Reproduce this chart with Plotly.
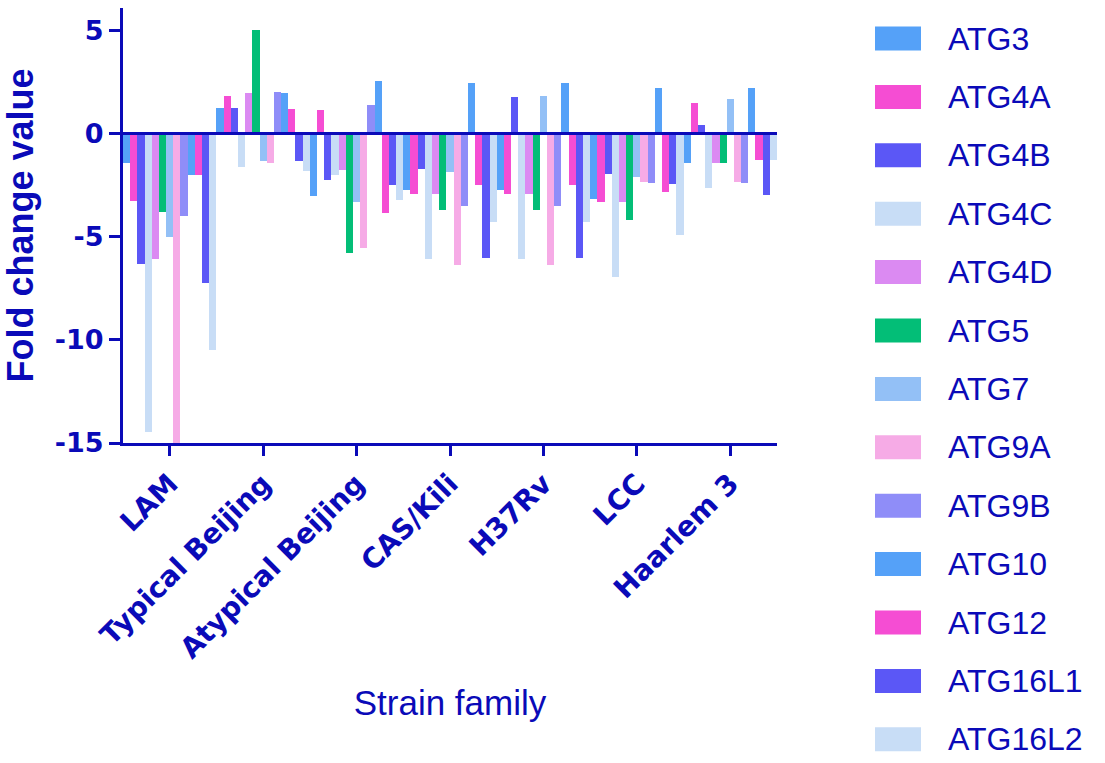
import plotly.graph_objects as go

# ---------------- data ----------------
categories = ["LAM", "Typical Beijing", "Atypical Beijing", "CAS/Kili", "H37Rv", "LCC", "Haarlem 3"]
series_names = ["ATG3", "ATG4A", "ATG4B", "ATG4C", "ATG4D", "ATG5", "ATG7",
                "ATG9A", "ATG9B", "ATG10", "ATG12", "ATG16L1", "ATG16L2"]

ATG3    = [-1.43, 1.24, -3.04, -2.75, -2.75, -3.17, -1.42]
ATG4A   = [-3.28, 1.82, 1.13, -2.91, -2.91, -3.33, 1.47]
ATG4B   = [-6.31, 1.24, -2.24, -1.71, 1.77, -1.95, 0.42]
ATG4C   = [-14.48, -1.64, -2.00, -6.07, -6.07, -6.94, -2.64]
ATG4D   = [-6.10, 1.95, -1.76, -2.91, -2.91, -3.33, -1.42]
ATG5    = [-3.82, 5.02, -5.78, -3.69, -3.69, -4.17, -1.42]
ATG7    = [-5.02, -1.35, -3.33, -1.88, 1.82, -2.11, 1.66]
ATG9A   = [-15.0, -1.43, -5.56, -6.36, -6.36, -2.35, -2.35]
ATG9B   = [-3.98, 2.01, 1.37, -3.53, -3.53, -2.40, -2.40]
ATG10   = [-2.00, 1.95, 2.53, 2.43, 2.43, 2.22, 2.22]
ATG12   = [-2.00, 1.18, -3.85, -2.51, -2.51, -2.82, -1.29]
ATG16L1 = [-7.23, -1.35, -2.51, -6.02, -6.02, -2.46, -2.98]
ATG16L2 = [-10.50, -1.84, -3.22, -4.27, -4.27, -4.91, -1.29]

series_values = [ATG3, ATG4A, ATG4B, ATG4C, ATG4D, ATG5, ATG7,
                 ATG9A, ATG9B, ATG10, ATG12, ATG16L1, ATG16L2]

y_tick_values = [-15, -10, -5, 0, 5]
y_tick_labels = ["-15", "-10", "-5", "0", "5"]

# ---------------- styles ----------------
colors = ["#55A1F8", "#F54DD3", "#5B57F6", "#C8DDF6", "#DB8AF2", "#03BE77", "#93C0F6",
          "#F6ABE6", "#8F8DF8", "#55A1F8", "#F54DD3", "#5B57F6", "#C8DDF6"]
AX = "#0A0AB8"
TICKFONT = "DejaVu Sans"
TEXTFONT = "Liberation Sans"

W, H = 1105, 763
L, R, T, B = 123, 328, 8, 320
PW, PH = W - L - R, H - T - B

def px_x(x):
    return (x - L) / PW

def px_y(y):
    return (H - B - y) / PH

fig = go.Figure()
for name, vals, col in zip(series_names, series_values, colors):
    fig.add_trace(go.Bar(x=categories, y=vals, name=name,
                         marker=dict(color=col, line=dict(width=0)),
                         showlegend=False))

fig.update_layout(
    barmode="group", bargap=0, bargroupgap=0,
    width=W, height=H, autosize=False,
    margin=dict(l=L, r=R, t=T, b=B, pad=0),
    plot_bgcolor="white", paper_bgcolor="white",
    font=dict(family=TEXTFONT, color=AX),
)

fig.update_yaxes(
    range=[-15, 6.08], tickvals=y_tick_values, ticktext=y_tick_labels,
    showline=True, linewidth=3, linecolor=AX,
    ticks="outside", ticklen=11, tickwidth=3, tickcolor=AX,
    showgrid=False, zeroline=False,
    tickfont=dict(family=TICKFONT, size=27, color=AX, weight="bold"),
    title=dict(text="Fold change value", font=dict(family=TEXTFONT, size=36, color=AX, weight="bold"),
               standoff=14),
)

fig.update_xaxes(
    range=[-0.5, 6.5],
    showline=True, linewidth=3, linecolor=AX,
    ticks="outside", ticklen=10, tickwidth=3, tickcolor=AX,
    showgrid=False, zeroline=False, tickangle=-45,
    tickfont=dict(family=TICKFONT, size=28, color=AX, weight="bold"),
    title=dict(text="Strain family", font=dict(family=TEXTFONT, size=35, color=AX), standoff=27),
)

# zero line drawn above the bars
fig.add_shape(type="line", xref="x domain", yref="y", x0=0, x1=1, y0=0, y1=0,
              line=dict(color=AX, width=3), layer="above")

# manual legend (wide swatches like the original)
for i, (name, col) in enumerate(zip(series_names, colors)):
    yc = 38.5 + 58.4 * i
    fig.add_shape(type="rect", xref="paper", yref="paper",
                  x0=px_x(875), x1=px_x(921), y0=px_y(yc + 12), y1=px_y(yc - 12),
                  fillcolor=col, line=dict(width=0), layer="above")
    fig.add_annotation(xref="paper", yref="paper", x=px_x(946), y=px_y(yc),
                       text=name, showarrow=False, xanchor="left", yanchor="middle",
                       font=dict(family=TEXTFONT, size=32, color=AX))

fig.write_html("out.html")
